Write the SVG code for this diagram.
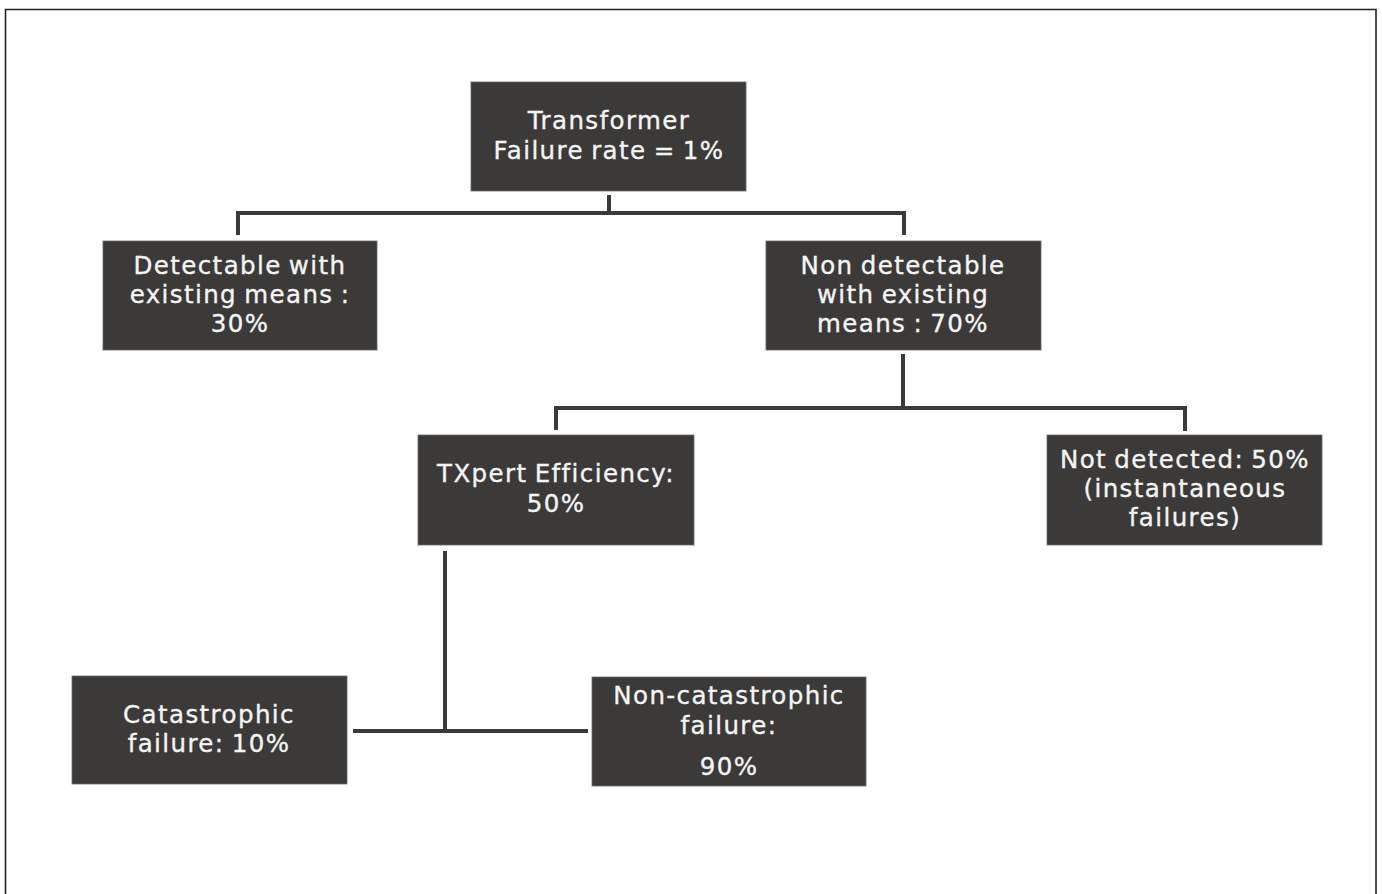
<svg xmlns="http://www.w3.org/2000/svg" width="1382" height="894" viewBox="0 0 1382 894">
<style>
.box{fill:#3b3a39;stroke:#6a6a6a;stroke-width:0.8}
.t{font-family:"DejaVu Sans","Open Sans",sans-serif;font-size:24.5px;fill:#f4f4f4;stroke:#f4f4f4;stroke-width:0.35;text-anchor:middle;letter-spacing:1.4px;word-spacing:-2px}
.c{fill:none;stroke:#3a3a3a;stroke-width:4;stroke-linecap:square;stroke-linejoin:miter}
</style>
<rect x="0" y="0" width="1382" height="894" fill="#ffffff"/>
<path d="M5.5 894 V9.5 H1376 V894" fill="none" stroke="#222" stroke-width="1.6"/>
<g id="connectors">
<path class="c" d="M609 197 V213 M238 233 V213 H904 V233"/>
<path class="c" d="M903 356 V408 M556 428 V408 H1185 V429"/>
<path class="c" d="M445 553 V731 M355 731 H586"/>
</g>
<g id="n-transformer">
<rect class="box" x="471" y="82" width="275" height="109"/>
<text class="t" x="609" y="129">Transformer</text>
<text class="t" x="609" y="159">Failure rate = 1%</text>
</g>
<g id="n-detectable">
<rect class="box" x="103" y="241" width="274" height="109"/>
<text class="t" x="240" y="274">Detectable with</text>
<text class="t" x="240" y="303">existing means :</text>
<text class="t" x="240" y="332">30%</text>
</g>
<g id="n-nondetectable">
<rect class="box" x="766" y="241" width="275" height="109"/>
<text class="t" x="903" y="274">Non detectable</text>
<text class="t" x="903" y="303">with existing</text>
<text class="t" x="903" y="332">means : 70%</text>
</g>
<g id="n-txpert">
<rect class="box" x="418" y="435" width="276" height="110"/>
<text class="t" x="556" y="482">TXpert Efficiency:</text>
<text class="t" x="556" y="512">50%</text>
</g>
<g id="n-notdetected">
<rect class="box" x="1047" y="435" width="275" height="110"/>
<text class="t" x="1185" y="468">Not detected: 50%</text>
<text class="t" x="1185" y="497">(instantaneous</text>
<text class="t" x="1185" y="526">failures)</text>
</g>
<g id="n-catastrophic">
<rect class="box" x="72" y="676" width="275" height="108"/>
<text class="t" x="209" y="723">Catastrophic</text>
<text class="t" x="209" y="752">failure: 10%</text>
</g>
<g id="n-noncatastrophic">
<rect class="box" x="592" y="677" width="274" height="109"/>
<text class="t" x="729" y="704">Non-catastrophic</text>
<text class="t" x="729" y="734">failure:</text>
<text class="t" x="729" y="775">90%</text>
</g>
</svg>
